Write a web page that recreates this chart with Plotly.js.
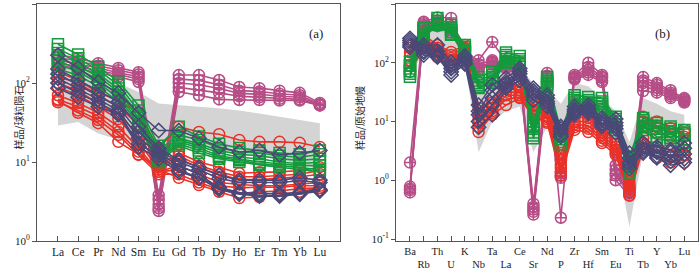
<!DOCTYPE html>
<html><head><meta charset="utf-8">
<script src="https://cdn.plot.ly/plotly-3.0.1.min.js"></script>
<style>html,body{margin:0;padding:0;background:#fff}#c{width:700px;height:270px}</style>
</head><body><div id="c"></div>
<script>
// ---------- Panel (a): chondrite-normalised REE ----------
var reeLabels = ['La','Ce','Pr','Nd','Sm','Eu','Gd','Tb','Dy','Ho','Er','Tm','Yb','Lu'];
var reeBandUpper = [180,160,130,100,77,55,53,50,48,45,41,37,34,31];
var reeBandLower = [29,32,23,19,16,15,15,15,14,13,12,10.5,9.5,8.2];
var reeMagenta = [
 [230,205,178,155,137,3.8,126,126,109,89,86,80,75,56],
 [210,190,165,145,128,3.3,112,108,95,80,78,73,70,54],
 [195,175,155,135,120,2.9,100,95,85,74,72,68,66,53],
 [180,160,145,128,112,2.6,88,82,75,68,66,63,62,52],
 [170,150,135,120,103,2.4,77,70,62,61,61,60,60,52]
];
var reeGreen = [
 [310,230,160,105,52,16,28,21,17,15,14,13,12.5,14],
 [270,205,145,95,45,14,22,19,15,13.5,13,12,11.5,12.5],
 [240,185,130,85,40,13,20,17,14,12.5,12,11,10.5,11],
 [210,165,120,78,36,12,19,16,13,11.5,11,10,9.5,10],
 [190,150,110,70,33,11,18,15,12,11,10,9.5,9,9],
 [170,140,100,65,30,10.5,17,14,11.5,10.5,9.5,9,8.5,8],
 [150,125,90,58,28,10,16,13,11,10,9.2,8.6,8,7.5]
];
var reeRed = [
 [137,109,75,61,42,15,28,24,22.5,19,18,18,17.5,15.5],
 [120,100,70,50,30,9,13,10,8.6,7.2,7.4,7.5,7.8,8.6],
 [100,80,55,40,22,8.6,12,9,7.5,6.5,6.5,6.8,7,7.8],
 [89,70,50,35,18,8,11,8.5,7,6,6,6.2,6.5,7],
 [70,56,42,28,15,7.5,9,7,5.5,5.2,5,5,5.2,5.5],
 [62,50,38,24,13.5,7.5,8,6,5,4.7,4.8,4.8,5,5],
 [57,45,34,22,12.3,7,7,5.5,4.5,4,4.2,4.3,4.6,4.7],
 [60,42,31,18,12.5,8,6.3,5.1,4.2,3.5,3.6,3.8,4.2,4.7]
];
var reePurple = [
 [225,155,103,75,42,25,25,20,15.5,13.4,14,12.3,13,14],
 [150,110,80,58,28,15,10.6,8.6,6.8,5.9,5.9,5.9,6.3,5.9],
 [130,95,70,50,24,14,10,8,6.2,5.5,5.5,5.5,5.8,5.5],
 [115,85,62,45,20,13,9,7,4.7,4.05,3.8,3.8,4.0,4.4],
 [100,75,55,42,17,12,8,6.3,4.5,3.9,3.7,3.7,3.9,4.3],
 [86,66,50,40,15.5,11,7.5,6.3,4.8,4.1,4.0,4.0,4.1,4.5]
];

// ---------- Panel (b): primitive-mantle-normalised spidergram ----------
var pmLabels = ['Ba','Rb','Th','U','K','Nb','Ta','La','Ce','Sr','Nd','P','Zr','Hf','Sm','Eu','Ti','Tb','Y','Yb','Lu'];
var pmBandUpper = [250,350,400,350,200,60,90,110,80,45,35,20,45,40,25,15,4.5,25,20,15,13];
var pmBandLower = [60,150,120,80,100,3,10,15,18,3,8,3,8,7,5,3,0.16,3,3,2.5,2.5];
var pmMagenta = [
 [2.0,500,590,580,150,110,225,105,80,0.40,67,0.23,62,100,62,1.8,0.75,57,45,34,25],
 [0.78,470,520,420,140,95,110,95,75,0.35,60,1.4,58,85,58,1.5,0.7,50,42,31,24],
 [0.72,440,480,390,130,85,104,90,70,0.32,55,1.3,56,75,55,1.3,0.65,45,38,29,23],
 [0.68,420,450,360,125,80,100,85,65,0.29,50,1.2,54,68,50,1.2,0.6,40,34,27,22],
 [0.62,400,420,330,120,75,95,80,60,0.26,45,1.1,52,62,47,1.0,0.55,33,31,25,21]
];
var pmGreen = [
 [103,390,580,440,200,57,70,150,130,10,57,7,28,26,25,12,2.5,11.5,9.4,8.2,7.2],
 [90,350,520,400,185,50,62,135,115,8.5,52,6,25,23,22,11,2.2,10.5,8.5,7.5,6.5],
 [80,320,480,360,170,45,57,125,105,7.5,48,5.5,23,21,20,10,1.9,9.5,7.5,6.8,6],
 [72,300,460,330,160,42,52,115,100,6.5,44,5,21,20,18,9,1.7,8.5,6.5,6,5],
 [65,280,440,310,155,39,48,105,95,5.8,41,4.5,19,19,16,8,1.5,8,5.5,5.3,4.3],
 [58,265,450,300,150,37,45,100,90,5.2,39,4.1,18,18,14.5,7.2,1.3,7.2,4.9,4.9,3.8]
];
var pmRed = [
 [178,300,200,153,200,17,21,45,39,23,16,2.7,14.5,13,7.2,4.8,0.95,12,10,7.7,7.2],
 [150,270,180,135,180,13,19,37,34,19,14,2.2,12,11.5,6.5,4.2,0.85,10,8.5,6.8,6.5],
 [130,250,165,120,165,11,17,32,31,16,12,1.8,10,10,5.8,3.7,0.78,8.2,6.4,5.5,5.5],
 [110,230,150,110,155,9.5,15,28,28,14,11,1.6,9,8.5,5.2,3.3,0.7,5.3,3.7,3.2,3.2],
 [90,210,140,100,145,8,14,24,26,13,10,1.4,8,7.5,4.7,3.0,0.62,4.3,3,2.6,2.6],
 [70,180,125,92,135,6.6,13,19,25,12,9.5,1.2,7.2,6.6,4.3,2.7,0.55,3.5,2.4,2.0,2.0]
];
var pmPurple = [
 [260,200,200,103,130,19,42,55,80,37,28,8.2,18,19,11.5,11,2.9,4.3,3.7,3.3,4.3],
 [240,180,160,90,120,15,34,48,72,33,25,7.5,16,17,10.5,9.5,2.4,3.8,3.3,3,3.5],
 [220,160,140,80,110,13,25,44,65,30,22,6.8,15,16,9.5,8.5,2,3.4,3,2.5,2.8],
 [200,150,130,70,100,10,19,40,57,27,20,6,14,15,9,7.5,1.8,3.1,2.6,2.1,2.3],
 [186,135,125,62,95,8,13,37,50,23,18,5.5,13,14,8.2,6.4,1.6,2.9,2.4,1.8,2.0]
];

var C_MAG = '#b64d86', C_GRN = '#139a3d', C_RED = '#ea3128', C_PUR = '#4a4878', C_BAND = '#d4d4d4';

function idx(n){var a=[];for(var i=0;i<n;i++)a.push(i);return a;}
function bandTrace(up, lo, xa, ya){
  var n = up.length, xs = idx(n), x = xs.concat(xs.slice().reverse()), y = up.concat(lo.slice().reverse());
  return {x:x, y:y, xaxis:xa, yaxis:ya, mode:'lines', fill:'toself', fillcolor:C_BAND, line:{width:0,color:C_BAND}, hoverinfo:'skip', showlegend:false};
}
function group(rows, color, symbol, xa, ya){
  return rows.map(function(r){
    return {x:idx(r.length), y:r, xaxis:xa, yaxis:ya, mode:'lines+markers',
      line:{color:color, width:1.6},
      marker:{symbol:symbol, size:11, color:color, line:{color:color, width:1.5}},
      showlegend:false, hoverinfo:'skip'};
  });
}

var traces = [];
traces.push(bandTrace(reeBandUpper, reeBandLower, 'x', 'y'));
traces = traces.concat(group(reeMagenta, C_MAG, 'circle-cross-open', 'x', 'y'));
traces = traces.concat(group(reeRed, C_RED, 'circle-open', 'x', 'y'));
traces = traces.concat(group(reeGreen, C_GRN, 'square-open', 'x', 'y'));
traces = traces.concat(group(reePurple, C_PUR, 'diamond-open', 'x', 'y'));
traces.push(bandTrace(pmBandUpper, pmBandLower, 'x2', 'y2'));
traces = traces.concat(group(pmMagenta, C_MAG, 'circle-cross-open', 'x2', 'y2'));
traces = traces.concat(group(pmRed, C_RED, 'circle-open', 'x2', 'y2'));
traces = traces.concat(group(pmGreen, C_GRN, 'square-open', 'x2', 'y2'));
traces = traces.concat(group(pmPurple, C_PUR, 'diamond-open', 'x2', 'y2'));

var FONT = 'Liberation Serif, Times New Roman, serif';
var pmTickText = pmLabels.map(function(s,i){return i%2===0 ? s : '\u00a0<br>'+s;});
function xax(domain, range, n, text, fs){
  return {domain:domain, range:range, tickmode:'array', tickvals:idx(n), ticktext:text, tickangle:0,
    ticks:'inside', ticklen:5, tickcolor:'#555', showgrid:false, zeroline:false,
    showline:true, mirror:true, linecolor:'#555', linewidth:1,
    tickfont:{family:FONT, size:fs, color:'#222'}, fixedrange:true};
}
function yax(domain, range, anchor, vals, text){
  return {domain:domain, type:'log', range:range, anchor:anchor, tickmode:'array', tickvals:vals, ticktext:text,
    ticks:'outside', ticklen:4, tickcolor:'#555', showgrid:false, zeroline:false,
    showline:true, mirror:true, linecolor:'#555', linewidth:1,
    tickfont:{family:FONT, size:11, color:'#222'}, fixedrange:true};
}
var yDom = [1-241/270, 1-4/270];
var layout = {
  width:700, height:270, margin:{l:0,r:0,t:0,b:0}, paper_bgcolor:'#fff', plot_bgcolor:'#fff',
  showlegend:false,
  xaxis: xax([37/700, 340/700], [-1.04, 14.0], reeLabels.length, reeLabels, 11.5),
  yaxis: yax(yDom, [0, 3], 'x', [1,10,100,1000], ['10<sup>0</sup>','10<sup>1</sup>','10<sup>2</sup>','10<sup>3</sup>']),
  xaxis2: Object.assign(xax([396/700, 698/700], [-1.02, 21.0], pmLabels.length, pmTickText, 10.5), {anchor:'y2'}),
  yaxis2: yax(yDom, [-1.034, 3], 'x2', [0.1,1,10,100,1000], ['10<sup>-1</sup>','10<sup>0</sup>','10<sup>1</sup>','10<sup>2</sup>','10<sup>3</sup>']),
  annotations:[
    {text:'(a)', xref:'paper', yref:'paper', x:316/700, y:1-24/270, showarrow:false, font:{family:FONT,size:13,color:'#222'}},
    {text:'(b)', xref:'paper', yref:'paper', x:672/700, y:1-24/270, showarrow:false, font:{family:FONT,size:13,color:'#222'}},
    {text:'样品/球粒陨石', xref:'paper', yref:'paper', x:8/700, y:1-118/270, textangle:-90, showarrow:false, font:{family:'Noto Sans CJK SC',size:10,color:'#222'}},
    {text:'样品/原始地幔', xref:'paper', yref:'paper', x:359/700, y:1-118/270, textangle:-90, showarrow:false, font:{family:'Noto Sans CJK SC',size:10,color:'#222'}}
  ]
};
Plotly.newPlot('c', traces, layout, {staticPlot:true, displayModeBar:false});
</script></body></html>
